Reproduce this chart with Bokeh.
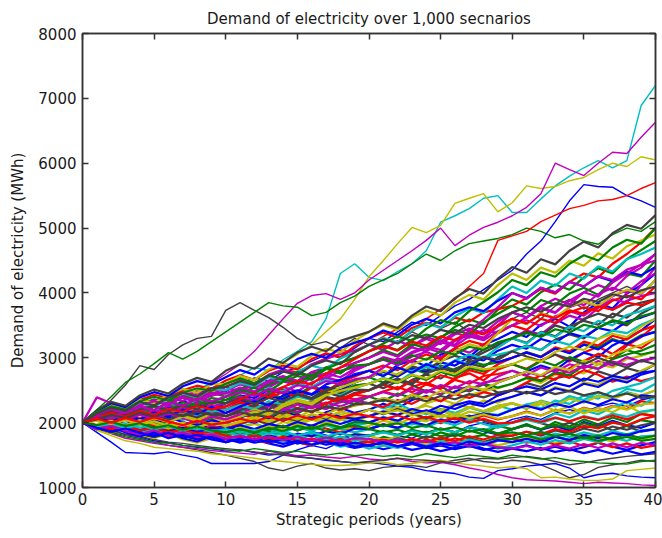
from bokeh.plotting import figure
from bokeh.models import Range1d, LinearAxis, FixedTicker
from bokeh.embed import file_html
from bokeh.resources import INLINE

# Strategic periods (years)
years = list(range(0, 41))
x_ticks = [0, 5, 10, 15, 20, 25, 30, 35, 40]
y_ticks = [1000, 2000, 3000, 4000, 5000, 6000, 7000, 8000]

# MATLAB-style line colour cycle: b, g, r, c, m, y, k
BLUE, GREEN, RED, CYAN, MAGENTA, YELLOW, BLACK = (
    "#0000FF", "#008000", "#FF0000", "#00BFBF", "#BF00BF", "#BFBF00", "#404040")

# Demand scenarios (MWh), one value per year
s01 = [2000, 2120, 2060, 2180, 2250, 2150, 2210, 2330, 2270, 2200, 2300, 2420, 2380, 2510, 2450, 2600, 2540, 2680, 2620, 2750, 2800, 2720, 2890, 2960, 2870, 3050, 3120, 3010, 3200, 3290, 3400, 3320, 3510, 3600, 3480, 3700, 3850, 3760, 3990, 4120, 4300]
s02 = [2000, 1920, 1980, 1870, 1810, 1890, 1830, 1760, 1850, 1780, 1800, 1740, 1820, 1760, 1690, 1750, 1810, 1720, 1680, 1760, 1700, 1780, 1730, 1820, 1760, 1850, 1790, 1880, 1820, 1950, 1900, 1980, 1890, 2010, 1940, 2050, 1970, 2080, 2010, 2140, 2100]
s03 = [2000, 2060, 1990, 2080, 2150, 2030, 2110, 2190, 2090, 2170, 2100, 2200, 2140, 2260, 2310, 2220, 2340, 2280, 2410, 2360, 2400, 2480, 2420, 2550, 2620, 2530, 2690, 2760, 2650, 2820, 2900, 2830, 2960, 3050, 2940, 3080, 3170, 3060, 3210, 3150, 3300]
s04 = [2000, 1950, 2040, 1980, 1900, 1960, 1880, 1950, 2020, 1940, 1900, 1970, 2050, 1990, 1920, 2010, 2080, 1990, 2060, 1950, 2000, 2090, 2030, 2140, 2070, 2180, 2120, 2230, 2170, 2260, 2300, 2210, 2340, 2280, 2410, 2350, 2470, 2390, 2520, 2480, 2600]
s05 = [2000, 2130, 2220, 2180, 2300, 2260, 2390, 2330, 2450, 2410, 2500, 2590, 2530, 2650, 2720, 2640, 2780, 2850, 2760, 2920, 3000, 3100, 3020, 3180, 3290, 3210, 3360, 3450, 3380, 3560, 3700, 3620, 3800, 3910, 3820, 4010, 4120, 4040, 4260, 4390, 4600]
s06 = [2000, 1900, 1840, 1910, 1820, 1760, 1830, 1740, 1690, 1760, 1700, 1780, 1730, 1820, 1860, 1780, 1850, 1790, 1740, 1830, 1800, 1730, 1780, 1700, 1660, 1740, 1690, 1760, 1710, 1650, 1700, 1770, 1720, 1680, 1750, 1820, 1760, 1710, 1790, 1740, 1800]
s07 = [2000, 2090, 2170, 2100, 2020, 2110, 2190, 2130, 2250, 2180, 2200, 2290, 2350, 2270, 2400, 2460, 2380, 2520, 2450, 2570, 2600, 2530, 2640, 2580, 2480, 2560, 2440, 2510, 2590, 2460, 2500, 2610, 2550, 2680, 2730, 2640, 2790, 2720, 2840, 2780, 2900]
s08 = [2000, 1930, 2010, 1950, 2050, 1980, 2070, 2120, 2030, 1960, 2000, 2080, 2140, 2060, 2170, 2110, 2050, 2160, 2230, 2150, 2200, 2290, 2220, 2350, 2410, 2330, 2480, 2560, 2470, 2620, 2700, 2790, 2880, 2810, 2970, 3080, 3010, 3190, 3300, 3420, 3600]
s09 = [2000, 2110, 2200, 2150, 2280, 2360, 2290, 2410, 2340, 2460, 2400, 2520, 2610, 2550, 2680, 2760, 2700, 2850, 2930, 2990, 3100, 3190, 3120, 3280, 3360, 3300, 3480, 3590, 3520, 3740, 3900, 3820, 4010, 4130, 4050, 4240, 4380, 4300, 4520, 4660, 4800]
s10 = [2000, 1940, 1880, 1950, 1870, 1820, 1900, 1840, 1780, 1850, 1800, 1870, 1820, 1900, 1950, 1880, 1960, 1910, 1850, 1940, 1900, 1980, 1920, 2010, 2060, 1990, 2080, 2030, 2110, 2050, 2100, 2170, 2110, 2200, 2140, 2230, 2180, 2260, 2210, 2330, 2300]
s11 = [2000, 2070, 2010, 2090, 2160, 2080, 2150, 2040, 2120, 2190, 2100, 2170, 2230, 2150, 2260, 2200, 2310, 2240, 2350, 2270, 2300, 2220, 2290, 2190, 2130, 2210, 2150, 2240, 2170, 2260, 2200, 2280, 2330, 2250, 2380, 2310, 2420, 2360, 2470, 2410, 2500]
s12 = [2000, 2150, 2090, 2230, 2320, 2260, 2390, 2470, 2410, 2530, 2600, 2680, 2590, 2740, 2820, 2750, 2900, 2980, 3060, 3110, 3200, 3120, 3260, 3180, 3320, 3250, 3390, 3310, 3430, 3380, 3500, 3580, 3490, 3640, 3720, 3650, 3810, 3740, 3880, 3950, 4000]
s13 = [2000, 1940, 2020, 1960, 1890, 1970, 1910, 1990, 1920, 1860, 1900, 1980, 2040, 1970, 2060, 2000, 2090, 2030, 2130, 2070, 2100, 2180, 2240, 2170, 2300, 2360, 2290, 2420, 2490, 2530, 2600, 2680, 2610, 2740, 2820, 2760, 2900, 2850, 2980, 3030, 3100]
s14 = [2000, 2060, 2130, 2050, 1990, 2080, 2020, 1950, 2040, 2090, 2000, 2100, 2180, 2120, 2240, 2310, 2250, 2380, 2330, 2440, 2500, 2590, 2520, 2660, 2740, 2680, 2830, 2910, 2860, 3010, 3100, 3190, 3120, 3280, 3360, 3300, 3470, 3560, 3500, 3680, 3800]
s15 = [2000, 1920, 1860, 1920, 1830, 1780, 1840, 1760, 1710, 1790, 1750, 1690, 1740, 1680, 1630, 1700, 1650, 1720, 1660, 1610, 1650, 1590, 1640, 1580, 1620, 1560, 1610, 1670, 1600, 1550, 1600, 1650, 1580, 1630, 1570, 1620, 1690, 1630, 1580, 1650, 1700]
s16 = [2000, 2080, 2160, 2110, 2210, 2150, 2240, 2180, 2290, 2240, 2300, 2380, 2320, 2440, 2510, 2430, 2560, 2490, 2610, 2650, 2700, 2620, 2750, 2830, 2760, 2880, 2810, 2950, 2890, 2930, 3000, 3090, 3020, 3150, 3080, 3210, 3160, 3290, 3220, 3350, 3400]
s17 = [2000, 2050, 2130, 2070, 2160, 2100, 2190, 2250, 2170, 2260, 2200, 2280, 2210, 2320, 2260, 2350, 2290, 2380, 2310, 2430, 2400, 2480, 2550, 2470, 2590, 2520, 2660, 2600, 2720, 2750, 2800, 2720, 2650, 2760, 2690, 2810, 2740, 2630, 2710, 2640, 2700]
s18 = [2000, 1950, 1890, 1970, 2040, 1960, 2030, 1950, 2060, 1990, 2000, 1930, 1990, 1910, 1860, 1940, 1880, 1960, 1900, 1850, 1900, 1970, 1910, 1990, 1930, 2020, 1960, 2050, 1980, 1920, 2000, 2080, 2020, 2140, 2080, 2190, 2130, 2240, 2310, 2260, 2400]
s19 = [2000, 2390, 2300, 2180, 2250, 2190, 2300, 2380, 2310, 2420, 2450, 2530, 2470, 2580, 2640, 2570, 2690, 2760, 2700, 2830, 2900, 2970, 2890, 3020, 3090, 3010, 3150, 3080, 3210, 3160, 3300, 3420, 3360, 3530, 3650, 3580, 3770, 3900, 3850, 4120, 4400]
s20 = [2000, 1930, 1870, 1950, 1880, 1820, 1900, 1840, 1920, 1870, 1850, 1920, 1980, 1910, 2010, 1960, 2050, 2000, 2080, 2030, 2100, 2170, 2110, 2200, 2260, 2190, 2290, 2230, 2340, 2310, 2400, 2480, 2420, 2550, 2490, 2620, 2580, 2700, 2660, 2800, 2900]
s21 = [2000, 2080, 2020, 2110, 2190, 2120, 2040, 2130, 2210, 2090, 2150, 2230, 2170, 2290, 2220, 2340, 2280, 2400, 2350, 2460, 2500, 2610, 2680, 2590, 2760, 2860, 2790, 2970, 3080, 3190, 3300, 3230, 3400, 3330, 3490, 3570, 3510, 3680, 3620, 3790, 3900]
s22 = [2000, 2060, 1990, 2040, 1960, 2020, 1940, 1890, 1970, 1910, 1950, 1880, 1830, 1900, 1840, 1790, 1860, 1800, 1740, 1820, 1800, 1860, 1810, 1880, 1830, 1910, 1850, 1930, 1870, 1820, 1900, 1960, 1890, 1950, 1880, 2010, 1940, 2030, 1960, 1920, 2000]
s23 = [2000, 2110, 2060, 2170, 2230, 2160, 2270, 2210, 2320, 2290, 2350, 2410, 2330, 2450, 2380, 2490, 2430, 2550, 2480, 2570, 2600, 2680, 2610, 2730, 2660, 2780, 2720, 2840, 2790, 2850, 2900, 2820, 2950, 2880, 3010, 2940, 3060, 2990, 3120, 3050, 3100]
s24 = [2000, 1960, 2030, 2090, 2010, 2080, 2000, 1940, 2020, 2100, 2050, 2130, 2070, 2180, 2110, 2220, 2160, 2250, 2190, 2270, 2300, 2240, 2350, 2290, 2400, 2330, 2440, 2380, 2470, 2420, 2500, 2620, 2730, 2660, 2840, 2950, 3060, 2980, 3190, 3320, 3500]
s25 = [2000, 1940, 2000, 1920, 1860, 1930, 1850, 1790, 1860, 1770, 1800, 1870, 1810, 1900, 1850, 1930, 1870, 1960, 1910, 1980, 2000, 1940, 2030, 1970, 2070, 2010, 2100, 2050, 2140, 2120, 2200, 2280, 2220, 2340, 2290, 2420, 2370, 2490, 2550, 2610, 2700]
s26 = [2000, 2120, 2210, 2150, 2280, 2350, 2290, 2410, 2480, 2430, 2550, 2480, 2600, 2540, 2670, 2610, 2740, 2680, 2800, 2850, 2900, 3010, 2950, 3090, 3180, 3120, 3280, 3370, 3310, 3480, 3600, 3520, 3690, 3610, 3780, 3860, 3790, 3950, 4040, 3980, 4200]
s27 = [2000, 2070, 2140, 2080, 2170, 2090, 2180, 2120, 2050, 2140, 2100, 2030, 2090, 1990, 2060, 1980, 2050, 1970, 2040, 2080, 2000, 2080, 2020, 2130, 2070, 2190, 2120, 2240, 2180, 2260, 2300, 2220, 2290, 2180, 2250, 2140, 2230, 2160, 2270, 2150, 2200]
s28 = [2000, 1940, 1890, 1960, 1890, 1950, 1870, 1930, 1850, 1920, 1900, 1980, 2050, 1970, 2080, 2030, 2130, 2060, 2170, 2120, 2200, 2130, 2210, 2140, 2070, 2130, 2050, 2110, 2030, 1970, 2000, 2070, 1990, 1930, 2000, 1920, 1980, 1880, 1950, 1860, 1900]
s29 = [2000, 2090, 2150, 2080, 2190, 2130, 2240, 2180, 2290, 2200, 2250, 2340, 2290, 2410, 2360, 2480, 2430, 2550, 2500, 2620, 2700, 2780, 2710, 2840, 2790, 2930, 2880, 3010, 2960, 3110, 3200, 3140, 3290, 3230, 3380, 3320, 3460, 3410, 3560, 3620, 3700]
s30 = [2000, 2050, 1980, 2060, 2000, 1940, 2020, 2080, 1990, 2060, 2000, 2090, 2150, 2080, 2200, 2140, 2260, 2210, 2330, 2290, 2400, 2330, 2450, 2380, 2500, 2430, 2550, 2480, 2600, 2540, 2600, 2690, 2640, 2780, 2730, 2880, 2830, 2980, 3050, 3110, 3200]
s31 = [2000, 1920, 1850, 1900, 1830, 1780, 1850, 1790, 1740, 1800, 1700, 1770, 1720, 1790, 1740, 1680, 1750, 1700, 1780, 1730, 1750, 1690, 1760, 1710, 1790, 1740, 1820, 1760, 1700, 1770, 1800, 1860, 1800, 1880, 1830, 1910, 1860, 1940, 1890, 1960, 2000]
s32 = [2000, 2100, 2190, 2130, 2250, 2180, 2300, 2240, 2360, 2330, 2400, 2480, 2420, 2540, 2480, 2600, 2550, 2670, 2610, 2730, 2800, 2730, 2850, 2790, 2910, 2840, 2960, 2900, 3020, 3050, 3100, 3180, 3120, 3260, 3200, 3340, 3290, 3420, 3380, 3510, 3600]
s33 = [2000, 2070, 2000, 2090, 2030, 2120, 2180, 2100, 2200, 2130, 2150, 2220, 2160, 2250, 2190, 2280, 2220, 2310, 2250, 2340, 2300, 2380, 2320, 2430, 2500, 2440, 2560, 2500, 2620, 2650, 2700, 2780, 2720, 2830, 2770, 2880, 2830, 2940, 2890, 2960, 3000]
s34 = [2000, 1940, 2010, 1950, 1880, 1940, 1870, 1930, 1860, 1910, 1850, 1920, 1870, 1950, 1890, 1970, 1910, 1990, 1930, 1900, 1950, 2030, 1980, 2070, 2020, 2120, 2080, 2170, 2130, 2220, 2300, 2240, 2330, 2270, 2370, 2310, 2410, 2360, 2450, 2420, 2500]
s35 = [2000, 2160, 2270, 2210, 2350, 2430, 2380, 2500, 2570, 2520, 2650, 2730, 2660, 2800, 2880, 2820, 2980, 3070, 3010, 3180, 3300, 3390, 3310, 3460, 3540, 3470, 3620, 3560, 3700, 3750, 3800, 3920, 4060, 3990, 4170, 4300, 4240, 4450, 4600, 4780, 5000]
s36 = [2000, 1960, 2040, 1970, 2060, 2000, 2080, 2010, 1950, 2030, 2000, 2060, 2000, 2090, 2030, 2120, 2070, 2150, 2090, 2060, 2100, 2170, 2120, 2210, 2160, 2260, 2210, 2300, 2250, 2340, 2400, 2470, 2420, 2530, 2480, 2600, 2550, 2670, 2620, 2740, 2800]
s37 = [2000, 2140, 2080, 2220, 2170, 2290, 2360, 2250, 2380, 2310, 2400, 2510, 2450, 2590, 2680, 2600, 2740, 2830, 2760, 2920, 3000, 3120, 3040, 3210, 3150, 3320, 3430, 3360, 3550, 3680, 3800, 3710, 3890, 3820, 3990, 4080, 3970, 4190, 4300, 4250, 4500]
s38 = [2000, 2090, 2030, 2140, 2060, 2180, 2110, 2230, 2150, 2270, 2200, 2320, 2250, 2390, 2470, 2400, 2540, 2480, 2620, 2710, 2800, 2880, 2810, 2960, 3050, 2980, 3150, 3260, 3200, 3380, 3500, 3430, 3600, 3540, 3700, 3780, 3720, 3880, 3960, 3900, 4100]
s39 = [2000, 2150, 2230, 2170, 2310, 2240, 2370, 2450, 2390, 2520, 2500, 2610, 2560, 2700, 2640, 2790, 2880, 2820, 2990, 3090, 3200, 3310, 3240, 3420, 3530, 3460, 3640, 3760, 3690, 3900, 4100, 4000, 4190, 4110, 4300, 4220, 4410, 4330, 4520, 4600, 4700]
s40 = [2000, 2070, 2160, 2100, 2220, 2150, 2260, 2190, 2300, 2250, 2300, 2400, 2340, 2470, 2550, 2480, 2620, 2700, 2640, 2800, 2900, 2980, 2910, 3070, 3150, 3080, 3260, 3350, 3290, 3500, 3700, 3620, 3780, 3700, 3890, 3810, 3980, 4080, 4000, 4180, 4300]
s41 = [2000, 2170, 2280, 2220, 2360, 2300, 2440, 2520, 2460, 2590, 2600, 2720, 2660, 2820, 2920, 2860, 3030, 3140, 3080, 3260, 3400, 3510, 3430, 3620, 3730, 3650, 3850, 3970, 3900, 4120, 4300, 4200, 4390, 4310, 4500, 4420, 4610, 4530, 4720, 4810, 4900]
s42 = [2000, 2040, 1980, 2070, 2010, 2110, 2050, 2140, 2080, 2170, 2100, 2190, 2270, 2200, 2340, 2420, 2360, 2500, 2580, 2620, 2700, 2790, 2730, 2870, 2810, 2950, 3030, 2970, 3130, 3220, 3300, 3400, 3340, 3500, 3430, 3600, 3680, 3620, 3790, 3850, 3900]
s43 = [2000, 2180, 2300, 2240, 2390, 2470, 2410, 2560, 2640, 2590, 2700, 2810, 2740, 2890, 2830, 2980, 3060, 3000, 3150, 3230, 3300, 3420, 3350, 3510, 3600, 3530, 3700, 3780, 3720, 3880, 4000, 3920, 4080, 4010, 4170, 4100, 4250, 4180, 4330, 4270, 4400]
s44 = [2000, 2110, 2050, 2180, 2120, 2250, 2190, 2310, 2260, 2380, 2350, 2460, 2540, 2480, 2630, 2720, 2660, 2830, 2920, 3000, 3100, 3220, 3330, 3260, 3450, 3580, 3520, 3720, 3860, 4010, 4200, 4120, 4320, 4250, 4450, 4580, 4500, 4700, 4820, 4760, 5000]
s45 = [2000, 1960, 1910, 1980, 1900, 1970, 1880, 1950, 1870, 1940, 1900, 1990, 2060, 2010, 2130, 2210, 2160, 2300, 2370, 2440, 2500, 2580, 2510, 2650, 2590, 2730, 2670, 2810, 2750, 2900, 3000, 3080, 3010, 3160, 3100, 3250, 3190, 3340, 3280, 3420, 3500]
s46 = [2000, 2060, 2130, 2070, 2180, 2120, 2210, 2150, 2250, 2170, 2200, 2270, 2210, 2330, 2280, 2400, 2350, 2460, 2420, 2530, 2600, 2690, 2620, 2770, 2860, 2800, 2960, 3050, 2990, 3160, 3300, 3220, 3390, 3320, 3480, 3410, 3570, 3500, 3660, 3720, 3800]
s47 = [2000, 2120, 2200, 2140, 2260, 2330, 2270, 2390, 2340, 2460, 2450, 2540, 2480, 2620, 2700, 2640, 2780, 2720, 2850, 2920, 3000, 3090, 3020, 3160, 3100, 3240, 3180, 3330, 3270, 3410, 3500, 3620, 3760, 3690, 3880, 4010, 3940, 4160, 4300, 4440, 4600]
s48 = [2000, 2040, 1970, 2050, 1990, 2080, 2020, 1950, 2030, 2090, 2000, 2110, 2200, 2140, 2280, 2360, 2300, 2450, 2540, 2620, 2700, 2800, 2740, 2890, 2990, 2930, 3100, 3210, 3150, 3380, 3600, 3520, 3690, 3610, 3790, 3870, 3800, 3960, 4050, 3990, 4200]
s49 = [2000, 2190, 2320, 2260, 2420, 2510, 2450, 2600, 2690, 2630, 2800, 2900, 2830, 2990, 2920, 3080, 3170, 3100, 3260, 3330, 3400, 3530, 3460, 3650, 3790, 3720, 3920, 4060, 3990, 4220, 4400, 4310, 4520, 4440, 4650, 4790, 4700, 4920, 5050, 4990, 5200]
s50 = [2000, 2080, 2010, 2120, 2050, 2160, 2090, 2200, 2130, 2240, 2150, 2250, 2330, 2270, 2420, 2500, 2440, 2590, 2660, 2730, 2800, 2720, 2850, 2770, 2900, 2820, 2950, 2880, 3010, 2930, 3000, 3080, 3010, 3140, 3070, 3200, 3130, 3270, 3210, 3330, 3400]
s51 = [2000, 1950, 1890, 1940, 1870, 1820, 1880, 1830, 1770, 1840, 1800, 1850, 1790, 1860, 1810, 1750, 1820, 1770, 1840, 1780, 1800, 1870, 1810, 1890, 1840, 1910, 1850, 1930, 1880, 1830, 1900, 1960, 1900, 1970, 1910, 1990, 1930, 2010, 1950, 2040, 2000]
s52 = [2000, 1910, 1950, 1860, 1800, 1860, 1780, 1830, 1750, 1800, 1750, 1810, 1740, 1690, 1760, 1700, 1650, 1720, 1670, 1740, 1700, 1650, 1720, 1670, 1740, 1690, 1760, 1700, 1660, 1720, 1750, 1690, 1730, 1660, 1710, 1640, 1690, 1620, 1680, 1610, 1650]
s53 = [2000, 2030, 1960, 1990, 1920, 1880, 1940, 1870, 1910, 1840, 1850, 1800, 1860, 1790, 1830, 1760, 1810, 1740, 1780, 1720, 1750, 1700, 1740, 1670, 1710, 1640, 1690, 1620, 1670, 1600, 1650, 1710, 1660, 1730, 1680, 1750, 1700, 1770, 1720, 1790, 1800]
s54 = [2000, 2050, 2110, 2040, 2120, 2060, 2140, 2070, 2000, 2090, 2050, 2120, 2180, 2110, 2220, 2160, 2270, 2210, 2320, 2350, 2400, 2470, 2410, 2520, 2460, 2580, 2530, 2640, 2590, 2710, 2800, 2730, 2850, 2780, 2900, 2840, 2950, 2880, 3010, 2940, 3000]
s55 = [2000, 1970, 2030, 1960, 2040, 1980, 1910, 1990, 1920, 2000, 1950, 2020, 2090, 2030, 2140, 2080, 2190, 2130, 2230, 2260, 2300, 2380, 2320, 2430, 2370, 2490, 2430, 2560, 2510, 2620, 2700, 2790, 2730, 2860, 2810, 2960, 2900, 3050, 3120, 3200, 3300]
s56 = [2000, 2090, 2170, 2110, 2200, 2260, 2180, 2270, 2210, 2320, 2300, 2370, 2290, 2380, 2320, 2430, 2360, 2470, 2400, 2510, 2500, 2590, 2670, 2610, 2760, 2840, 2780, 2930, 3010, 2970, 3100, 3020, 2950, 3050, 2980, 2900, 3000, 2920, 2850, 2960, 2900]
s57 = [2000, 1900, 1940, 1850, 1790, 1850, 1760, 1810, 1740, 1780, 1700, 1760, 1720, 1800, 1750, 1830, 1790, 1870, 1820, 1910, 1900, 1970, 1920, 2010, 1960, 2050, 2000, 2090, 2140, 2110, 2200, 2260, 2200, 2290, 2240, 2330, 2270, 2360, 2310, 2420, 2400]
s58 = [2000, 2160, 2250, 2200, 2330, 2400, 2340, 2460, 2530, 2490, 2600, 2680, 2610, 2730, 2660, 2780, 2720, 2840, 2790, 2880, 2900, 2980, 2920, 3040, 2970, 3100, 3050, 3170, 3120, 3240, 3300, 3380, 3320, 3440, 3390, 3510, 3460, 3580, 3530, 3640, 3700]
s59 = [2000, 2080, 2150, 2090, 2180, 2120, 2210, 2160, 2260, 2200, 2250, 2360, 2450, 2400, 2550, 2640, 2590, 2760, 2850, 2980, 3100, 3180, 3110, 3250, 3190, 3330, 3270, 3410, 3360, 3500, 3600, 3530, 3670, 3610, 3730, 3680, 3790, 3740, 3850, 3810, 3900]
s60 = [2000, 1930, 1970, 1890, 1840, 1900, 1830, 1870, 1800, 1850, 1800, 1750, 1800, 1730, 1690, 1740, 1660, 1700, 1630, 1670, 1600, 1650, 1610, 1680, 1640, 1710, 1670, 1740, 1690, 1720, 1750, 1810, 1760, 1830, 1780, 1850, 1800, 1870, 1820, 1880, 1900]
s61 = [2000, 2110, 2060, 2180, 2250, 2190, 2310, 2260, 2370, 2330, 2400, 2470, 2410, 2520, 2460, 2580, 2530, 2640, 2590, 2670, 2700, 2850, 2990, 2930, 3120, 3270, 3200, 3420, 3590, 3780, 4000, 3910, 4080, 4010, 4170, 4100, 4260, 4200, 4360, 4430, 4500]
s62 = [2000, 2030, 1970, 2050, 1990, 2070, 2010, 2090, 2030, 1970, 2000, 2090, 2170, 2120, 2250, 2330, 2280, 2420, 2490, 2540, 2600, 2680, 2620, 2740, 2680, 2800, 2750, 2870, 2820, 2850, 2900, 2990, 2940, 3090, 3170, 3120, 3290, 3370, 3320, 3480, 3600]
s63 = [2000, 2140, 2230, 2180, 2320, 2260, 2390, 2460, 2400, 2530, 2550, 2640, 2580, 2720, 2790, 2730, 2880, 2960, 2900, 3090, 3200, 3290, 3220, 3350, 3300, 3430, 3380, 3510, 3460, 3600, 3700, 3780, 3710, 3840, 3790, 3910, 3860, 3980, 3930, 4040, 4100]
s64 = [2000, 1960, 1890, 1950, 1880, 1930, 1860, 1920, 1850, 1920, 1900, 1960, 1900, 1980, 1930, 2010, 1950, 2040, 1980, 2050, 2000, 2080, 2030, 2130, 2190, 2140, 2270, 2330, 2290, 2420, 2500, 2560, 2510, 2610, 2560, 2680, 2630, 2720, 2680, 2770, 2800]
s65 = [2000, 1930, 1870, 1920, 1850, 1800, 1860, 1790, 1830, 1770, 1750, 1710, 1760, 1700, 1740, 1680, 1720, 1660, 1700, 1630, 1650, 1690, 1630, 1670, 1610, 1650, 1590, 1640, 1580, 1620, 1600, 1560, 1610, 1550, 1590, 1530, 1580, 1520, 1570, 1510, 1550]
s66 = [2000, 2040, 1970, 1930, 1980, 1910, 1950, 1880, 1930, 1870, 1850, 1900, 1840, 1890, 1950, 1880, 1940, 1870, 1920, 1960, 1900, 1850, 1890, 1820, 1860, 1790, 1830, 1770, 1810, 1740, 1750, 1800, 1740, 1790, 1730, 1780, 1720, 1770, 1820, 1760, 1800]
s67 = [2000, 1960, 1900, 1950, 1880, 1920, 1850, 1890, 1830, 1860, 1800, 1760, 1800, 1740, 1780, 1720, 1760, 1700, 1740, 1680, 1700, 1740, 1690, 1750, 1700, 1770, 1720, 1790, 1740, 1810, 1800, 1860, 1820, 1900, 1860, 1950, 1910, 2000, 1960, 2050, 2100]
s68 = [2000, 1940, 1980, 1920, 1960, 1900, 1950, 1880, 1930, 1860, 1900, 1850, 1890, 1830, 1870, 1800, 1850, 1790, 1840, 1770, 1800, 1850, 1800, 1870, 1820, 1900, 1850, 1930, 1880, 1960, 2000, 2040, 1990, 2070, 2020, 2100, 2050, 2140, 2090, 2170, 2200]
s69 = [2000, 1900, 1950, 1870, 1820, 1880, 1800, 1850, 1780, 1820, 1750, 1800, 1740, 1790, 1730, 1780, 1720, 1770, 1710, 1760, 1750, 1700, 1740, 1680, 1720, 1660, 1700, 1640, 1680, 1620, 1600, 1640, 1590, 1650, 1600, 1670, 1610, 1680, 1620, 1690, 1650]
s70 = [2000, 2030, 1980, 2040, 1970, 2020, 1950, 2000, 1930, 1990, 1950, 2010, 2070, 2010, 2100, 2050, 2130, 2080, 2170, 2120, 2200, 2140, 2190, 2110, 2160, 2080, 2140, 2070, 2130, 2060, 2100, 2160, 2110, 2190, 2140, 2220, 2170, 2250, 2200, 2280, 2300]
s71 = [2000, 2050, 2120, 2070, 2150, 2090, 2160, 2100, 2170, 2120, 2100, 2160, 2110, 2190, 2140, 2220, 2170, 2250, 2210, 2280, 2300, 2350, 2300, 2380, 2330, 2410, 2360, 2440, 2390, 2460, 2500, 2450, 2510, 2440, 2490, 2420, 2470, 2400, 2450, 2380, 2400]
s72 = [2000, 1920, 1860, 1910, 1840, 1790, 1840, 1770, 1810, 1740, 1700, 1750, 1690, 1730, 1670, 1720, 1660, 1710, 1650, 1690, 1650, 1700, 1640, 1690, 1630, 1680, 1640, 1710, 1660, 1730, 1700, 1750, 1700, 1780, 1730, 1810, 1760, 1840, 1800, 1870, 1900]
s73 = [2000, 1960, 2010, 1950, 1990, 1920, 1960, 1890, 1940, 1880, 1850, 1900, 1850, 1920, 1870, 1950, 1900, 1980, 1930, 2010, 2000, 1950, 1990, 1920, 1960, 1890, 1930, 1860, 1900, 1830, 1850, 1810, 1860, 1790, 1830, 1760, 1800, 1740, 1780, 1720, 1750]
s74 = [2000, 2060, 2000, 2070, 2010, 2080, 2020, 1960, 2030, 1970, 2000, 2060, 2010, 2090, 2030, 2110, 2050, 2130, 2070, 2140, 2100, 2050, 2110, 2040, 2090, 2020, 2070, 2000, 2060, 1990, 2000, 2060, 2010, 2080, 2020, 2090, 2040, 2110, 2050, 2130, 2100]

# Extreme scenarios at the upper and lower edges of the fan
e01 = [2000, 2080, 2150, 2250, 2200, 2330, 2410, 2380, 2500, 2620, 2580, 2730, 2850, 2800, 2970, 3100, 3250, 3600, 4300, 4450, 4240, 4190, 4330, 4450, 4650, 5090, 5190, 5300, 5460, 5500, 5240, 5240, 5450, 5650, 5800, 5930, 6040, 5930, 6040, 6890, 7200]
e02 = [2000, 2100, 2190, 2150, 2260, 2340, 2300, 2420, 2500, 2460, 2580, 2700, 2650, 2800, 2920, 3050, 3200, 3400, 3600, 3900, 4250, 4500, 4760, 5010, 4930, 5040, 5380, 5460, 5530, 5250, 5390, 5650, 5610, 5640, 5730, 5780, 5900, 6000, 5950, 6100, 6050]
e03 = [2000, 2120, 2060, 2200, 2310, 2250, 2400, 2520, 2460, 2610, 2750, 2900, 3100, 3350, 3600, 3840, 3960, 3990, 3900, 4000, 4200, 4350, 4500, 4650, 4810, 5000, 4730, 4890, 5010, 5090, 5190, 5320, 5530, 6000, 5900, 5810, 6000, 6170, 6150, 6400, 6630]
e04 = [2000, 2160, 2350, 2580, 2880, 2820, 3050, 3200, 3300, 3330, 3730, 3850, 3730, 3620, 3470, 3300, 3200, 3250, 3150, 3300, 3200, 3150, 3250, 3400, 3300, 3450, 3550, 3400, 3300, 3500, 3600, 3700, 3600, 3800, 3900, 3750, 3900, 4000, 4100, 4000, 4200]
e05 = [2000, 2200, 2400, 2620, 2750, 2910, 3080, 2980, 3100, 3250, 3400, 3550, 3700, 3850, 3800, 3780, 3650, 3700, 3850, 3950, 4100, 4200, 4300, 4450, 4600, 4500, 4650, 4760, 4800, 4840, 4900, 5000, 4950, 4850, 4900, 4800, 4750, 4900, 5000, 4950, 5100]
e06 = [2000, 2080, 2150, 2230, 2180, 2300, 2380, 2330, 2450, 2520, 2480, 2600, 2690, 2640, 2780, 2850, 2950, 3050, 3000, 3150, 3300, 3250, 3400, 3550, 3500, 3650, 3800, 3900, 4050, 4200, 4350, 4600, 4800, 5100, 5420, 5670, 5640, 5630, 5500, 5420, 5320]
e07 = [2000, 2110, 2060, 2180, 2260, 2200, 2330, 2420, 2370, 2490, 2560, 2650, 2600, 2730, 2820, 2780, 2900, 3000, 3120, 3080, 3200, 3330, 3450, 3400, 3600, 3750, 3900, 4100, 4300, 4810, 4880, 4950, 5100, 5200, 5300, 5350, 5420, 5440, 5500, 5610, 5700]
e08 = [2000, 1850, 1700, 1540, 1530, 1520, 1550, 1500, 1460, 1370, 1370, 1370, 1370, 1400, 1500, 1580, 1650, 1600, 1700, 1660, 1750, 1700, 1800, 1760, 1850, 1900, 1850, 1950, 2000, 1950, 2050, 2100, 2050, 2150, 2200, 2150, 2250, 2300, 2250, 2350, 2400]
e09 = [2000, 1920, 1850, 1800, 1760, 1700, 1650, 1620, 1580, 1540, 1500, 1450, 1400, 1300, 1260, 1330, 1370, 1300, 1270, 1290, 1260, 1310, 1330, 1340, 1310, 1380, 1420, 1450, 1400, 1380, 1420, 1400, 1350, 1260, 1150, 1200, 1310, 1350, 1380, 1420, 1400]
e10 = [2000, 1930, 1880, 1820, 1780, 1720, 1690, 1650, 1620, 1600, 1560, 1580, 1540, 1500, 1520, 1480, 1450, 1420, 1400, 1380, 1390, 1360, 1330, 1310, 1260, 1240, 1215, 1160, 1140, 1260, 1290, 1330, 1350, 1370, 1300, 1150, 1200, 1220, 1180, 1160, 1150]
e11 = [2000, 1900, 1830, 1760, 1720, 1680, 1650, 1620, 1600, 1570, 1550, 1530, 1510, 1560, 1520, 1490, 1500, 1470, 1450, 1480, 1440, 1420, 1450, 1400, 1380, 1390, 1350, 1300, 1260, 1200, 1150, 1120, 1110, 1100, 1080, 1060, 1080, 1070, 1060, 1040, 1030]
e12 = [2000, 1880, 1800, 1720, 1680, 1620, 1600, 1580, 1560, 1520, 1500, 1480, 1450, 1420, 1400, 1380, 1360, 1340, 1340, 1350, 1380, 1390, 1350, 1370, 1400, 1420, 1380, 1350, 1330, 1300, 1320, 1290, 1150, 1160, 1130, 1110, 1110, 1130, 1260, 1280, 1300]
e13 = [2000, 1950, 1880, 1820, 1790, 1740, 1700, 1680, 1650, 1620, 1600, 1580, 1550, 1520, 1500, 1470, 1450, 1430, 1400, 1380, 1400, 1420, 1450, 1430, 1420, 1400, 1380, 1420, 1450, 1440, 1460, 1480, 1450, 1400, 1350, 1380, 1420, 1450, 1480, 1500, 1520]
e14 = [2000, 1900, 1840, 1780, 1740, 1700, 1680, 1650, 1630, 1600, 1580, 1560, 1600, 1570, 1540, 1560, 1520, 1500, 1530, 1490, 1510, 1480, 1500, 1470, 1520, 1490, 1460, 1500, 1480, 1450, 1500, 1470, 1440, 1460, 1420, 1400, 1380, 1370, 1360, 1400, 1420]

core = [s01, s02, s03, s04, s05, s06, s07, s08, s09, s10,
        s11, s12, s13, s14, s15, s16, s17, s18, s19, s20,
        s21, s22, s23, s24, s25, s26, s27, s28, s29, s30,
        s31, s32, s33, s34, s35, s36, s37, s38, s39, s40,
        s41, s42, s43, s44, s45, s46, s47, s48, s49, s50,
        s51, s52, s53, s54, s55, s56, s57, s58, s59, s60,
        s61, s62, s63, s64, s65, s66, s67, s68, s69, s70,
        s71, s72, s73, s74]
extremes = [e01, e02, e03, e04, e05, e06, e07, e08, e09, e10, e11, e12, e13, e14]

cycle = [BLUE, GREEN, RED, CYAN, MAGENTA, YELLOW, BLACK]
core_colors = (
    cycle * 4
    + [BLUE, GREEN, BLACK, CYAN, MAGENTA, YELLOW, RED, BLUE]
    + [GREEN, RED, CYAN, MAGENTA, YELLOW, BLACK, BLUE] * 4
    + cycle + [BLUE, GREEN, RED]
)
extreme_colors = [CYAN, YELLOW, MAGENTA, BLACK, GREEN, BLUE, RED,
                  BLUE, BLACK, BLUE, MAGENTA, YELLOW, BLACK, GREEN]

FONT = "DejaVu Sans"
TEXT = "#1a1a1a"
AXIS = "#333333"

p = figure(
    width=662, height=538,
    output_backend="svg", toolbar_location=None,
    x_range=Range1d(0, 40), y_range=Range1d(1000, 8000),
    x_axis_label="Strategic periods (years)",
    y_axis_label="Demand of electricity (MWh)",
    min_border_left=82, min_border_right=7,
    min_border_top=33, min_border_bottom=51,
)
p.title.text = "Demand of electricity over 1,000 secnarios"
p.title.align = "center"
p.title.text_font = FONT
p.title.text_font_size = "15px"
p.title.text_font_style = "normal"
p.title.text_color = TEXT
p.title.standoff = 12

p.xgrid.visible = False
p.ygrid.visible = False
p.background_fill_color = "white"
p.border_fill_color = "white"
p.outline_line_color = AXIS
p.outline_line_width = 1.5

p.multi_line(xs=[years] * len(extremes), ys=extremes,
             line_color=extreme_colors, line_width=1.4)
p.multi_line(xs=[years] * len(core), ys=core,
             line_color=core_colors, line_width=2.2)


def style_axis(ax, ticks, show_labels):
    ax.ticker = FixedTicker(ticks=ticks)
    ax.minor_tick_line_color = None
    ax.major_tick_in = 6
    ax.major_tick_out = 0
    ax.major_tick_line_color = AXIS
    ax.major_tick_line_width = 1.5
    ax.axis_line_color = AXIS
    ax.axis_line_width = 1.5
    ax.major_label_text_font = FONT
    ax.major_label_text_font_size = "15px"
    ax.major_label_text_color = TEXT
    ax.axis_label_text_font = FONT
    ax.axis_label_text_font_size = "15px"
    ax.axis_label_text_font_style = "normal"
    ax.axis_label_text_color = TEXT
    if not show_labels:
        ax.major_label_overrides = {t: "" for t in ticks}
        ax.major_label_standoff = 0


xa = p.xaxis[0]
ya = p.yaxis[0]
style_axis(xa, x_ticks, True)
style_axis(ya, y_ticks, True)
xa.major_label_standoff = 5
xa.axis_label_standoff = 3
ya.major_label_standoff = 6
ya.axis_label_standoff = 8

# Inward ticks on the top and right edges of the box
top_axis = LinearAxis()
right_axis = LinearAxis()
p.add_layout(top_axis, "above")
p.add_layout(right_axis, "right")
style_axis(top_axis, x_ticks, False)
style_axis(right_axis, y_ticks, False)

open("out.html", "w").write(file_html(p, INLINE))
